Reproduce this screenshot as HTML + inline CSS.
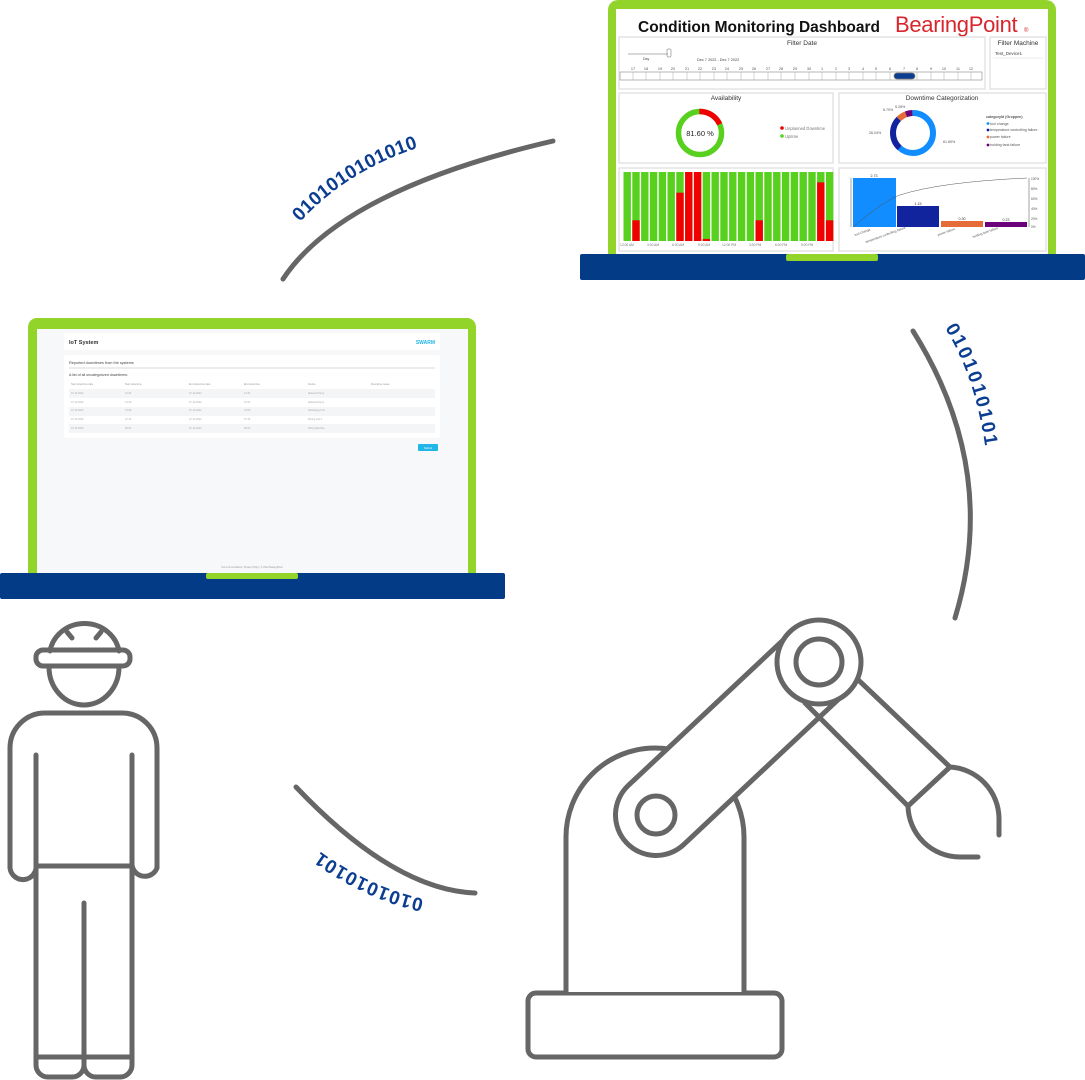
<!DOCTYPE html>
<html><head><meta charset="utf-8"><style>
html,body{margin:0;padding:0;background:#fff;}
svg{display:block;font-family:"Liberation Sans",sans-serif;}
</style></head><body>
<svg width="1085" height="1080" viewBox="0 0 1085 1080" xmlns="http://www.w3.org/2000/svg">
<!-- ===== Top dashboard laptop ===== -->
<rect x="608" y="0" width="448" height="262" rx="10" fill="#93d42a"/>
<rect x="616" y="9" width="432" height="245" fill="#ffffff"/>
<rect x="580" y="254" width="505" height="26" rx="2" fill="#043b86"/>
<rect x="786" y="254" width="92" height="7" rx="2" fill="#93d42a"/>
<text x="638" y="32" font-size="15.5" font-weight="bold" fill="#111">Condition Monitoring Dashboard</text>
<text x="895" y="32" font-size="22" fill="#d8262c" letter-spacing="-0.3">BearingPoint</text>
<text x="1024" y="32" font-size="6" fill="#d8262c">®</text>
<!-- panels -->
<g fill="#fff" stroke="#e4e4e4" stroke-width="1.5">
<rect x="619" y="37" width="366" height="52"/>
<rect x="990" y="37" width="56" height="52"/>
<rect x="619" y="93" width="214" height="70"/>
<rect x="839" y="93" width="207" height="70"/>
<rect x="619" y="168" width="214" height="83"/>
<rect x="839" y="168" width="207" height="83"/>
</g>
<text x="802" y="45" font-size="6.5" text-anchor="middle" fill="#333">Filter Date</text>
<text x="1018" y="45" font-size="6.5" text-anchor="middle" fill="#333">Filter Machine</text>
<text x="995" y="55" font-size="4.5" fill="#444">Test_Device1</text>
<line x1="993" y1="58" x2="1043" y2="58" stroke="#ddd" stroke-width="0.5"/>
<line x1="628" y1="54" x2="668" y2="54" stroke="#666" stroke-width="0.6"/>
<rect x="667" y="49" width="4" height="8" rx="1" fill="none" stroke="#666" stroke-width="0.5"/>
<text x="643" y="60" font-size="3.5" fill="#444">Day</text>
<text x="697" y="61" font-size="3.8" fill="#444">Dec 7 2022 - Dec 7 2022</text>
<g font-size="3.8" fill="#555" text-anchor="middle">
<text x="633" y="70">17</text><text x="646" y="70">18</text><text x="660" y="70">19</text><text x="673" y="70">20</text><text x="687" y="70">21</text><text x="700" y="70">22</text><text x="714" y="70">23</text><text x="727" y="70">24</text><text x="741" y="70">25</text><text x="754" y="70">26</text><text x="768" y="70">27</text><text x="781" y="70">28</text><text x="795" y="70">29</text><text x="809" y="70">30</text><text x="822" y="70">1</text><text x="836" y="70">2</text><text x="849" y="70">3</text><text x="863" y="70">4</text><text x="876" y="70">5</text><text x="890" y="70">6</text><text x="904" y="70">7</text><text x="917" y="70">8</text><text x="931" y="70">9</text><text x="944" y="70">10</text><text x="958" y="70">11</text><text x="971" y="70">12</text>
</g>
<rect x="620" y="72" width="362" height="8" fill="none" stroke="#888" stroke-width="0.6"/>
<g stroke="#aaa" stroke-width="0.5">
<path d="M633 72v8M646 72v8M660 72v8M673 72v8M687 72v8M700 72v8M714 72v8M727 72v8M741 72v8M754 72v8M768 72v8M781 72v8M795 72v8M809 72v8M822 72v8M836 72v8M849 72v8M863 72v8M876 72v8M890 72v8M917 72v8M931 72v8M944 72v8M958 72v8M971 72v8"/>
</g>
<rect x="894" y="73" width="21" height="6" rx="3" fill="#0b3d91" stroke="#777" stroke-width="0.8"/>
<!-- availability -->
<text x="726" y="100" font-size="6.5" text-anchor="middle" fill="#333">Availability</text>
<g transform="rotate(-90 700 133)">
<circle cx="700" cy="133" r="21.5" fill="none" stroke="#57d01e" stroke-width="5.5"/>
<circle cx="700" cy="133" r="21.5" fill="none" stroke="#f00000" stroke-width="5.5" pathLength="100" stroke-dasharray="18.4 81.6"/>
</g>
<text x="700" y="136" font-size="7.5" text-anchor="middle" fill="#222">81.60 %</text>
<circle cx="782" cy="128" r="1.8" fill="#f00000"/><text x="785" y="130" font-size="4.2" fill="#777">Unplanned Downtime</text>
<circle cx="782" cy="136" r="1.8" fill="#57d01e"/><text x="785" y="138" font-size="4.2" fill="#777">Uptime</text>
<!-- downtime categorization -->
<text x="942" y="100" font-size="6.5" text-anchor="middle" fill="#333">Downtime Categorization</text>
<g transform="rotate(-90 913 133)" fill="none" stroke-width="6">
<circle cx="913" cy="133" r="20" stroke="#118dff" pathLength="100" stroke-dasharray="61.89 38.11"/>
<circle cx="913" cy="133" r="20" stroke="#12239e" pathLength="100" stroke-dasharray="0 61.89 26.04 12.07"/>
<circle cx="913" cy="133" r="20" stroke="#e66c37" pathLength="100" stroke-dasharray="0 87.93 6.79 5.28"/>
<circle cx="913" cy="133" r="20" stroke="#6b007b" pathLength="100" stroke-dasharray="0 94.72 5.28 0"/>
</g>
<g font-size="3.6" fill="#555">
<text x="869" y="134">26.04%</text><text x="883" y="111">6.79%</text><text x="895" y="108">5.28%</text><text x="943" y="143">61.89%</text>
<text x="986" y="118" font-weight="bold">categoryId (Groppen)</text>
<text x="990" y="125">tool change</text><text x="990" y="131">temperature controlling failure</text><text x="990" y="138">power failure</text><text x="990" y="146">holding tank failure</text>
</g>
<circle cx="988" cy="123.5" r="1.4" fill="#118dff"/><circle cx="988" cy="130" r="1.4" fill="#12239e"/><circle cx="988" cy="137" r="1.4" fill="#e66c37"/><circle cx="988" cy="145" r="1.4" fill="#6b007b"/>
<!-- stacked bars -->
<g id="bars"></g>
<g font-size="3.3" fill="#777">
<text x="620" y="246">12:00 AM</text><text x="647" y="246">3:00 AM</text><text x="672" y="246">6:00 AM</text><text x="698" y="246">9:00 AM</text><text x="722" y="246">12:00 PM</text><text x="749" y="246">3:00 PM</text><text x="775" y="246">6:00 PM</text><text x="801" y="246">9:00 PM</text>
</g>
<!-- pareto -->
<rect x="853" y="178" width="43" height="49" fill="#118dff"/>
<rect x="897" y="206" width="42" height="21" fill="#12239e"/>
<rect x="941" y="221" width="42" height="6" fill="#e66c37"/>
<rect x="985" y="222" width="42" height="5" fill="#6b007b"/>
<line x1="851" y1="178" x2="851" y2="227" stroke="#666" stroke-width="0.6"/>
<line x1="1029" y1="178" x2="1029" y2="227" stroke="#666" stroke-width="0.6"/>
<path d="M853 227 Q885 200 900 195 Q940 182 1027 178" fill="none" stroke="#555" stroke-width="0.5"/>
<g font-size="3.6" fill="#333" text-anchor="middle">
<text x="874" y="177">2.73</text><text x="918" y="205">1.15</text><text x="962" y="220">0.30</text><text x="1006" y="221">0.23</text>
</g>
<g font-size="3.2" fill="#555">
<text x="1031" y="180">100%</text><text x="1031" y="190">80%</text><text x="1031" y="200">60%</text><text x="1031" y="210">40%</text><text x="1031" y="220">20%</text><text x="1031" y="228">0%</text>
<text transform="translate(855 236) rotate(-20)">tool change</text>
<text transform="translate(866 243) rotate(-20)">temperature controlling failure</text>
<text transform="translate(938 236) rotate(-20)">power failure</text>
<text transform="translate(973 238) rotate(-20)">holding tank failure</text>
</g>

<!-- ===== Bottom-left laptop ===== -->
<rect x="28" y="318" width="448" height="266" rx="9" fill="#93d42a"/>
<rect x="37" y="329" width="431" height="244" fill="#f7f8fa"/>
<rect x="0" y="573" width="505" height="26" rx="2" fill="#043b86"/>
<rect x="206" y="573" width="92" height="6" rx="2" fill="#93d42a"/>
<rect x="64" y="333" width="376" height="17" rx="2" fill="#fff"/>
<text x="69" y="344" font-size="5.5" fill="#333" font-weight="bold">IoT System</text>
<text x="435" y="344" font-size="5" fill="#22b5e8" font-weight="bold" text-anchor="end">SWARM</text>
<rect x="64" y="355" width="376" height="83" rx="2" fill="#fff"/>
<text x="69" y="364" font-size="3.8" fill="#444">Reported downtimes from the systems</text>
<line x1="69" y1="368" x2="435" y2="368" stroke="#ccc" stroke-width="0.8"/>
<text x="69" y="376" font-size="3.6" fill="#444">A list of all uncategorized downtimes:</text>
<g font-size="2.5" fill="#999">
<text x="71" y="385">Start downtime date</text><text x="125" y="385">Start downtime</text><text x="189" y="385">End downtime date</text><text x="244" y="385">End downtime</text><text x="308" y="385">Device</text><text x="371" y="385">Downtime cause</text>
</g>
<rect x="69" y="389" width="366" height="9" fill="#f4f5f7"/>
<rect x="69" y="407" width="366" height="9" fill="#f4f5f7"/>
<rect x="69" y="424" width="366" height="9" fill="#f4f5f7"/>
<g font-size="2.5" fill="#aaa">
<text x="71" y="394">07.12.2022</text><text x="125" y="394">14:32</text><text x="189" y="394">07.12.2022</text><text x="244" y="394">14:34</text><text x="308" y="394">Material Pump</text>
<text x="71" y="403">07.12.2022</text><text x="125" y="403">14:30</text><text x="189" y="403">07.12.2022</text><text x="244" y="403">14:31</text><text x="308" y="403">Material Pump</text>
<text x="71" y="411">07.12.2022</text><text x="125" y="411">13:08</text><text x="189" y="411">07.12.2022</text><text x="244" y="411">13:09</text><text x="308" y="411">Packaging Unit</text>
<text x="71" y="420">07.12.2022</text><text x="125" y="420">07:10</text><text x="189" y="420">07.12.2022</text><text x="244" y="420">07:15</text><text x="308" y="420">Mixing Unit 1</text>
<text x="71" y="429">07.12.2022</text><text x="125" y="429">06:02</text><text x="189" y="429">07.12.2022</text><text x="244" y="429">06:03</text><text x="308" y="429">Filling Machine</text>
</g>
<rect x="418" y="444" width="20" height="7" rx="1" fill="#22b5e8"/>
<text x="428" y="449" font-size="2.6" fill="#fff" text-anchor="middle">Submit</text>
<text x="252" y="568" font-size="2.4" fill="#999" text-anchor="middle">Terms &amp; Conditions  |  Privacy Policy  |  © 2022 BearingPoint</text>

<!-- ===== Connector arcs ===== -->
<g fill="none" stroke="#666" stroke-width="5" stroke-linecap="round">
<path d="M283 279 Q342 190 553 141"/>
<path d="M913 331 Q1000 470 955 618"/>
<path d="M296 787 Q394 890 475 893"/>
</g>
<g font-size="19" fill="#0b3d91" font-weight="bold">
<defs>
<path id="p1" d="M300 222 Q355 162 445 140"/>
<path id="p2" d="M945 328 Q980 385 988 470"/>
<path id="p3" d="M424 899 Q365 886 310 844"/>
</defs>
<text letter-spacing="0.3"><textPath href="#p1">0101010101010</textPath></text>
<text letter-spacing="2.2"><textPath href="#p2">0101010101</textPath></text>
<text letter-spacing="1"><textPath href="#p3">0101010101</textPath></text>
</g>

<!-- ===== Robot ===== -->
<g fill="none" stroke="#666" stroke-width="5" stroke-linecap="round" stroke-linejoin="round">
<rect x="528" y="993" width="254" height="64" rx="8" fill="#fff"/>
<path d="M566 992 V837 A89 89 0 0 1 744 837 V992" fill="#fff"/>
</g>
<line x1="656" y1="815" x2="819" y2="662" stroke="#666" stroke-width="86" stroke-linecap="round"/>
<line x1="656" y1="815" x2="819" y2="662" stroke="#fff" stroke-width="76" stroke-linecap="round"/>
<g fill="none" stroke="#666" stroke-width="5" stroke-linecap="round" stroke-linejoin="round">
<path d="M850 672 L950 767 L908 806 L805 703"/>
<path d="M950 767 A52 52 0 0 1 999 818 V835"/>
<path d="M908 806 A52 52 0 0 0 960 857 H978"/>
<circle cx="819" cy="662" r="42" fill="#fff"/>
<circle cx="819" cy="662" r="23"/>
<circle cx="656" cy="815" r="19"/>
</g>

<!-- ===== Person ===== -->
<g fill="none" stroke="#666" stroke-width="5" stroke-linecap="round" stroke-linejoin="round">
<path d="M50 651 A35 33 0 0 1 119 651"/>
<path d="M49 667 A35 38 0 0 0 119 667"/>
<rect x="36" y="650" width="94" height="16" rx="7"/>
<path d="M67 632 L72 638 M101 632 L96 638"/>
<path d="M36 755 V865 A13 13 0 0 1 10 868 V748 A35 35 0 0 1 45 713 H122 A35 35 0 0 1 157 748 V868 A13 13 0 0 1 132 865 V755"/>
<path d="M36 866 H132"/>
<path d="M36 866 V1065 A12 12 0 0 0 48 1077 H72 A12 12 0 0 0 84 1065 A12 12 0 0 0 96 1077 H120 A12 12 0 0 0 132 1065 V866"/>
<path d="M84 903 V1065"/>
<path d="M36 1057 H132"/>
</g>
</svg>
<script>
(function(){
var g=document.getElementById('bars');var ns='http://www.w3.org/2000/svg';
var red=[0,0.3,0,0,0,0,0.7,1,1,0.03,0,0,0,0,0,0.3,0,0,0,0,0,0,0.85,0.3];
for(var i=0;i<24;i++){var x=623.5+i*8.8,top=172,h=69;
var r=document.createElementNS(ns,'rect');r.setAttribute('x',x);r.setAttribute('y',top);r.setAttribute('width',7.4);r.setAttribute('height',h);r.setAttribute('fill','#57d01e');g.appendChild(r);
if(red[i]>0){var q=document.createElementNS(ns,'rect');q.setAttribute('x',x);q.setAttribute('y',top+h*(1-red[i]));q.setAttribute('width',7.4);q.setAttribute('height',h*red[i]);q.setAttribute('fill','#f00000');g.appendChild(q);}}
})();
</script>
</body></html>
